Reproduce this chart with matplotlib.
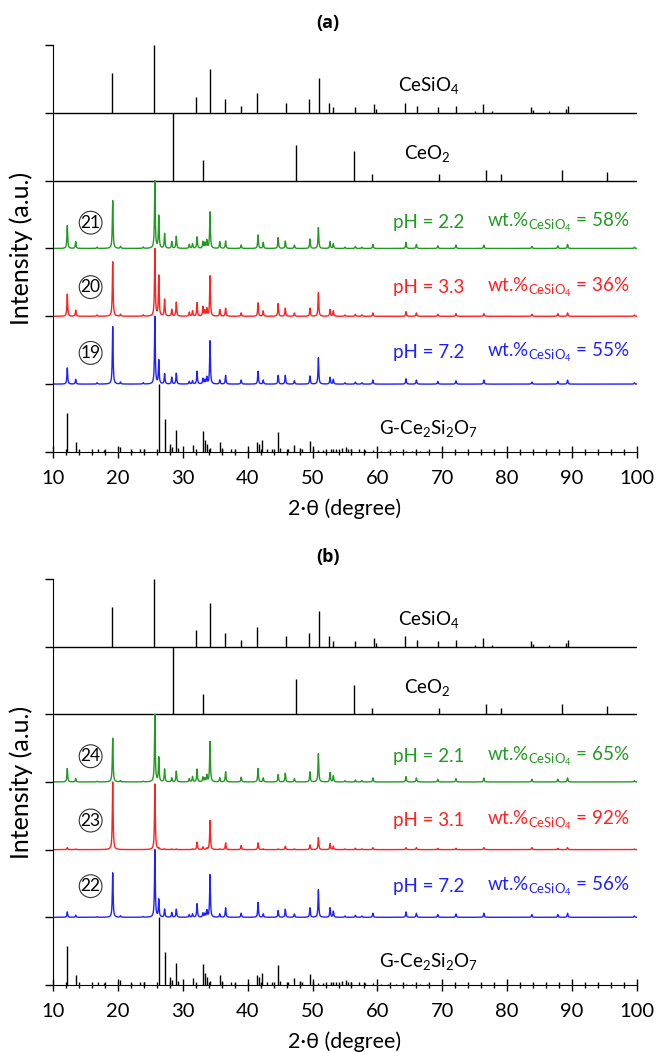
import numpy as np
import matplotlib
matplotlib.use("Agg")
import matplotlib.pyplot as plt
from matplotlib.ticker import MultipleLocator

plt.rcParams['font.family'] = ['Lato', 'DejaVu Sans']
plt.rcParams['mathtext.fontset'] = 'custom'
plt.rcParams['mathtext.rm'] = 'Lato'
plt.rcParams['mathtext.it'] = 'Lato:italic'

# reference sticks
cesio4_pos = [19.1, 25.6, 32.1, 34.2, 36.5, 39.0, 41.5, 45.9, 49.5, 50.95, 52.6, 53.2, 56.6,
              59.5, 59.85, 64.3, 66.1, 69.3, 72.1, 75.1, 76.3, 77.7, 83.6, 84.0, 86.5, 89.0, 89.3]
cesio4_int = [0.59, 1.0, 0.24, 0.64, 0.2, 0.1, 0.29, 0.15, 0.2, 0.52, 0.15, 0.08, 0.08,
              0.13, 0.06, 0.15, 0.1, 0.08, 0.1, 0.03, 0.13, 0.025, 0.08, 0.04, 0.03, 0.06, 0.1]

ceo2_pos = [28.55, 33.08, 47.48, 56.34, 59.09, 69.42, 76.7, 79.08, 88.44, 95.4]
ceo2_int = [1.0, 0.30, 0.52, 0.44, 0.10, 0.10, 0.15, 0.10, 0.15, 0.12]

gcs_pos = [12.2, 13.6, 16.9, 17.8, 20.3, 22.1, 23.4, 24.1, 26.3, 27.2, 28.0, 28.3, 29.0, 29.3,
           31.5, 33.1, 33.4, 33.7, 34.2, 35.7, 36.0, 37.4, 38.0, 40.1, 41.5, 41.8, 42.2, 43.0,
           43.7, 44.6, 45.0, 46.2, 47.2, 48.0, 48.3, 49.6, 50.0, 50.9, 51.6, 52.8, 53.2, 53.6,
           54.5, 55.2, 55.5, 56.0, 57.2, 58.1, 59.3, 60.5, 61.7, 62.9, 64.4, 65.3, 66.5, 67.7]
gcs_int = [0.58, 0.15, 0.05, 0.03, 0.07, 0.02, 0.05, 0.04, 1.0, 0.48, 0.12, 0.08, 0.33, 0.06,
           0.1, 0.31, 0.17, 0.12, 0.06, 0.15, 0.06, 0.05, 0.03, 0.03, 0.15, 0.12, 0.17, 0.05,
           0.04, 0.3, 0.06, 0.05, 0.1, 0.06, 0.05, 0.16, 0.05, 0.03, 0.03, 0.04, 0.05, 0.04,
           0.06, 0.07, 0.05, 0.04, 0.05, 0.03, 0.03, 0.02, 0.02, 0.02, 0.02, 0.02, 0.02, 0.015]

# measured patterns: peak positions shared, heights per sample
peak_pos = [12.2, 13.5, 16.8, 19.2, 20.4, 23.9, 25.7, 26.3, 27.2, 28.3, 29.0, 31.0, 31.5, 32.2,
            33.1, 33.4, 33.7, 34.2, 35.7, 36.6, 39.0, 41.6, 42.4, 44.7, 45.8, 47.2, 49.6, 50.9,
            52.7, 53.2, 55.0, 56.6, 57.6, 59.3, 64.4, 66.0, 69.3, 72.1, 76.4, 83.8, 87.8, 89.3, 99.6]

a_green = [0.34, 0.10, 0.02, 0.71, 0.03, 0.02, 1.0, 0.48, 0.22, 0.10, 0.18, 0.06, 0.07, 0.17,
           0.10, 0.08, 0.12, 0.54, 0.10, 0.11, 0.05, 0.20, 0.09, 0.16, 0.11, 0.05, 0.14, 0.31,
           0.10, 0.07, 0.02, 0.03, 0.02, 0.06, 0.09, 0.06, 0.04, 0.05, 0.05, 0.03, 0.04, 0.06, 0.02]
a_red = [0.33, 0.09, 0.02, 0.81, 0.03, 0.02, 1.0, 0.60, 0.25, 0.10, 0.21, 0.06, 0.08, 0.20,
         0.14, 0.08, 0.11, 0.60, 0.10, 0.12, 0.05, 0.20, 0.08, 0.19, 0.12, 0.05, 0.12, 0.35,
         0.10, 0.08, 0.02, 0.03, 0.02, 0.05, 0.07, 0.05, 0.03, 0.04, 0.04, 0.03, 0.04, 0.05, 0.02]
a_blue = [0.24, 0.07, 0.02, 0.85, 0.03, 0.02, 1.0, 0.35, 0.15, 0.10, 0.16, 0.04, 0.05, 0.19,
          0.08, 0.06, 0.10, 0.64, 0.06, 0.13, 0.06, 0.19, 0.06, 0.13, 0.13, 0.05, 0.12, 0.39,
          0.10, 0.07, 0.02, 0.03, 0.02, 0.06, 0.08, 0.06, 0.04, 0.05, 0.06, 0.03, 0.04, 0.06, 0.02]

b_green = [0.20, 0.05, 0.01, 0.65, 0.02, 0.01, 1.0, 0.36, 0.19, 0.06, 0.16, 0.05, 0.08, 0.19,
           0.07, 0.05, 0.10, 0.60, 0.06, 0.15, 0.07, 0.20, 0.06, 0.11, 0.13, 0.05, 0.15, 0.42,
           0.14, 0.09, 0.02, 0.03, 0.02, 0.06, 0.08, 0.06, 0.04, 0.05, 0.06, 0.04, 0.04, 0.06, 0.02]
b_red = [0.03, 0.01, 0.0, 1.0, 0.0, 0.0, 0.97, 0.02, 0.01, 0.01, 0.01, 0.0, 0.01, 0.11,
         0.04, 0.0, 0.02, 0.43, 0.01, 0.10, 0.06, 0.10, 0.01, 0.01, 0.05, 0.01, 0.07, 0.18,
         0.09, 0.05, 0.01, 0.02, 0.01, 0.03, 0.03, 0.03, 0.02, 0.02, 0.03, 0.03, 0.02, 0.03, 0.01]
b_blue = [0.08, 0.03, 0.01, 0.66, 0.02, 0.01, 1.0, 0.26, 0.12, 0.07, 0.12, 0.04, 0.05, 0.20,
          0.06, 0.05, 0.10, 0.63, 0.05, 0.14, 0.06, 0.22, 0.05, 0.10, 0.12, 0.05, 0.14, 0.41,
          0.14, 0.09, 0.02, 0.03, 0.02, 0.06, 0.08, 0.06, 0.04, 0.05, 0.06, 0.04, 0.04, 0.06, 0.02]

panels = [
    ("(a)", [a_green, a_red, a_blue], ["21", "20", "19"], ["2.2", "3.3", "7.2"], ["58", "36", "55"]),
    ("(b)", [b_green, b_red, b_blue], ["24", "23", "22"], ["2.1", "3.1", "7.2"], ["65", "92", "56"]),
]
colors = ['#229922', '#ff2020', '#2020ff']
text_y = [0.38, 0.43, 0.46]

fig = plt.figure(figsize=(6.56, 10.53), dpi=100)
axes_rect = [[0.0808, 0.5708, 0.8902, 0.3865], [0.0808, 0.0646, 0.8902, 0.3856]]

x = np.linspace(10, 100, 9001)
w = 0.07


def profile(pos, heights):
    y = np.zeros_like(x)
    for p, h in zip(pos, heights):
        y += h / (1 + ((x - p) / w) ** 2)
    return y / y.max()


for (title, pats, nums, phs, wts), rect in zip(panels, axes_rect):
    ax = fig.add_axes(rect)
    ax.set_xlim(10, 100)
    ax.set_ylim(0, 6)

    # sticks
    ax.vlines(cesio4_pos, 5, 5 + np.array(cesio4_int), color='k', lw=1)
    ax.vlines(ceo2_pos, 4, 4 + np.array(ceo2_int), color='k', lw=1)
    ax.vlines(gcs_pos, 0, np.array(gcs_int), color='k', lw=1)
    ax.axhline(5, color='k', lw=1)
    ax.axhline(4, color='k', lw=1)

    for i, (h, c) in enumerate(zip(pats, colors)):
        base = 3 - i
        ax.plot(x, base + profile(peak_pos, h), color=c, lw=1)
        ty = base + text_y[i]
        ax.text(15.8, ty, nums[i], ha='center', va='center', fontsize=12.5,
                bbox=dict(boxstyle='circle,pad=0.08', fc='none', ec='#333333', lw=0.8))
        ax.text(67.9, ty, "pH = " + phs[i], ha='center', va='center', fontsize=13.5, color=c)
        ax.text(76.9, ty, r"wt.%$_{\mathregular{CeSiO_4}}$ = " + wts[i] + "%",
                ha='left', va='center', fontsize=13.5, color=c)

    ax.text(67.9, 5.4, r"CeSiO$_4$", ha='center', va='center', fontsize=13.5)
    ax.text(67.6, 4.4, r"CeO$_2$", ha='center', va='center', fontsize=13.5)
    ax.text(67.9, 0.35, r"G-Ce$_2$Si$_2$O$_7$", ha='center', va='center', fontsize=13.5)

    for s in ['top', 'right']:
        ax.spines[s].set_visible(False)
    ax.set_yticks(range(7))
    ax.set_yticklabels([])
    ax.tick_params(axis='y', direction='out', length=6, width=1)
    ax.xaxis.set_major_locator(MultipleLocator(10))
    ax.xaxis.set_minor_locator(MultipleLocator(2))
    ax.tick_params(axis='x', which='major', direction='inout', length=8, width=1, labelsize=14.5, pad=9)
    ax.tick_params(axis='x', which='minor', direction='inout', length=5, width=1)
    ax.set_xlabel("2·θ (degree)", fontsize=15.5, labelpad=8)
    ax.set_ylabel("Intensity (a.u.)", fontsize=18, labelpad=5)

    top = rect[1] + rect[3]
    fig.text(0.5, top + 0.021, title, ha='center', va='center', fontsize=13,
             fontweight='bold', family=['Open Sans', 'DejaVu Sans'])

fig.savefig("out.png", dpi=100)
